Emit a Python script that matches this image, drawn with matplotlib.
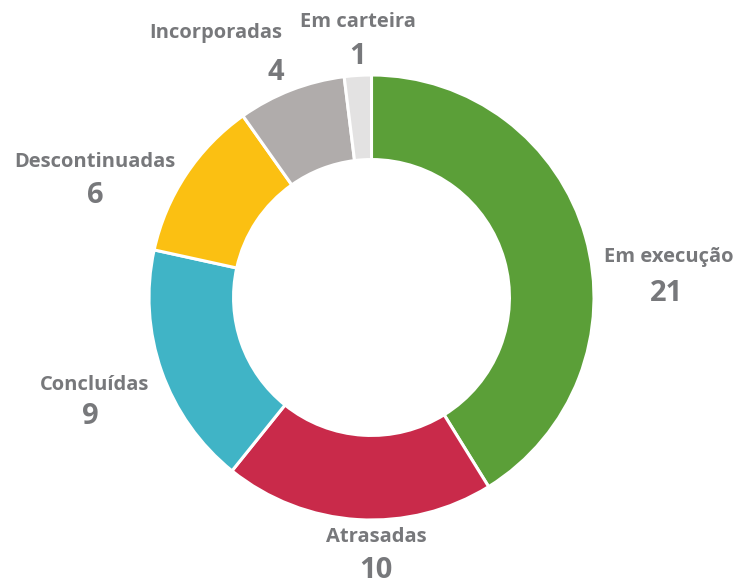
import matplotlib
matplotlib.use('Agg')
from matplotlib import pyplot as plt

categories = ['Em execução', 'Atrasadas', 'Concluídas', 'Descontinuadas',
              'Incorporadas', 'Em carteira']
values = [21, 10, 9, 6, 4, 1]
colors = ['#5b9f38', '#c92a4a', '#40b4c6', '#fbc012', '#b0acab', '#e3e2e2']

# label placement in pixels (name centre, number centre) - layout only
name_pos = [(669, 257), (376, 537), (95, 385), (95, 162), (216, 33), (358, 22)]
num_pos = [(667, 294), (376, 571), (90, 417), (95, 196), (276, 72), (358, 57)]

W, H = 740, 584
cx, cy, R = 371.5, 297.5, 222.5

fig = plt.figure(figsize=(W / 100, H / 100), dpi=100)
ax = fig.add_axes([0, 0, 1, 1])
ax.pie(values, colors=colors, startangle=90, counterclock=False, radius=1,
       wedgeprops=dict(width=0.38, edgecolor='white', linewidth=2.2))
ax.set_xlim(-cx / R, (W - cx) / R)
ax.set_ylim(-(H - cy) / R, cy / R)
ax.set_aspect('equal')
ax.axis('off')


def to_data(p):
    return (p[0] - cx) / R, (cy - p[1]) / R


txt_color = '#77787b'
for cat, val, pn, pv in zip(categories, values, name_pos, num_pos):
    x, y = to_data(pn)
    ax.text(x, y, cat, ha='center', va='center', fontsize=14.5,
            fontweight='bold', color=txt_color, family='Open Sans')
    x, y = to_data(pv)
    ax.text(x, y, str(val), ha='center', va='center', fontsize=21,
            fontweight='bold', color=txt_color, family='Open Sans')

plt.savefig('out.png', dpi=100)
